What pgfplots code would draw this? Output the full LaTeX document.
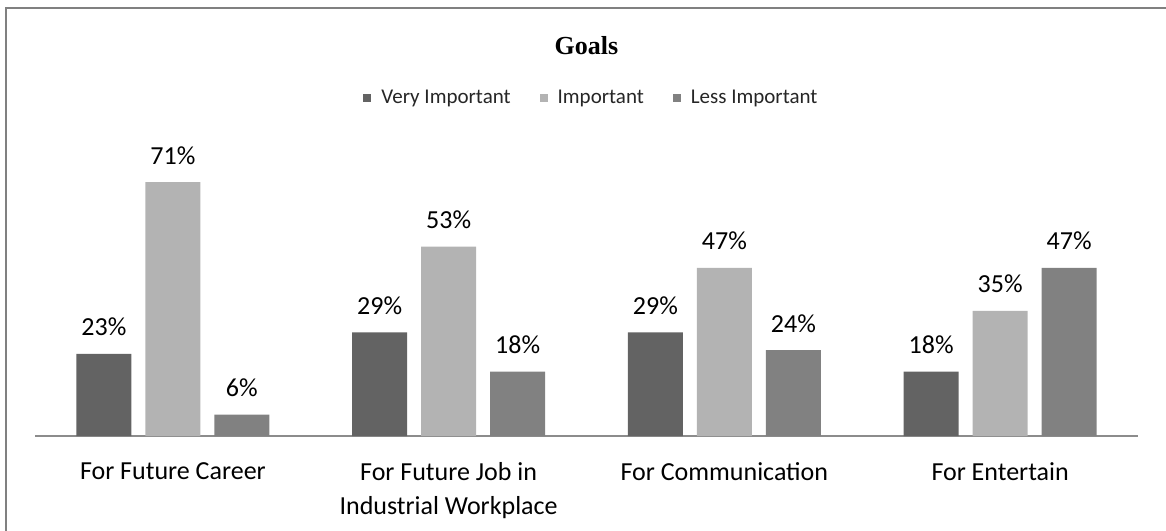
\documentclass[border=0pt]{standalone}
\usepackage{fontspec}
\setmainfont{Carlito}
\newfontfamily\titlefont{Liberation Serif}
\usepackage{pgfplots}
\pgfplotsset{compat=1.18}
\definecolor{vimp}{HTML}{636363}
\definecolor{imp}{HTML}{B3B3B3}
\definecolor{limp}{HTML}{818181}
\begin{document}
\begin{tikzpicture}
\useasboundingbox (0,0) rectangle (583bp,265.5bp);
% chart frame, right and bottom edges are cut off in the reference
\draw[black!50, line width=1bp] (3bp,0) -- (3bp,261.5bp) -- (583bp,261.5bp);
\begin{axis}[
    at={(17.5bp,47.5bp)}, anchor=south west,
    scale only axis, width=551.5bp, height=143bp,
    ymin=0, ymax=80, xmin=-0.5, xmax=3.5,
    ybar=7bp, bar width=27.5bp,
    axis y line=none, axis x line*=bottom,
    x axis line style={-, draw=black!45, line width=1bp},
    xtick=data,
    xticklabels={For Future Career,{For Future Job in\\Industrial Workplace},For Communication,For Entertain},
    major tick length=0pt,
    x tick label style={font=\fontsize{13bp}{17bp}\selectfont, align=center, anchor=north, inner sep=0pt, yshift=-13bp},
    clip=false,
    nodes near coords={\pgfmathprintnumber[assume math mode=true]{\pgfplotspointmeta}\%},
    every node near coord/.append style={font=\fontsize{13bp}{15bp}\selectfont, anchor=base, inner sep=0pt, yshift=9bp, black},
    title={Goals},
    title style={font=\titlefont\bfseries\fontsize{13bp}{15bp}\selectfont, at={(0.5,1)}, anchor=center, yshift=46bp},
    legend style={at={(0.5,1)}, anchor=center, xshift=2bp, yshift=26bp, draw=none, legend columns=-1,
        font=\fontsize{10.5bp}{12bp}\selectfont, text=black!85,
        nodes={inner sep=0pt},
        /tikz/every odd column/.append style={column sep=5bp},
        /tikz/every even column/.append style={column sep=14.5bp}},
    legend image code/.code={\path[#1,draw=none] (0bp,-2bp) rectangle (4bp,2bp);},
]
\addplot[fill=vimp, draw=none] coordinates {(0,23) (1,29) (2,29) (3,18)};
\addlegendentry{Very Important}
\addplot[fill=imp, draw=none] coordinates {(0,71) (1,53) (2,47) (3,35)};
\addlegendentry{Important}
\addplot[fill=limp, draw=none] coordinates {(0,6) (1,18) (2,24) (3,47)};
\addlegendentry{Less Important}
\end{axis}
\end{tikzpicture}
\end{document}
